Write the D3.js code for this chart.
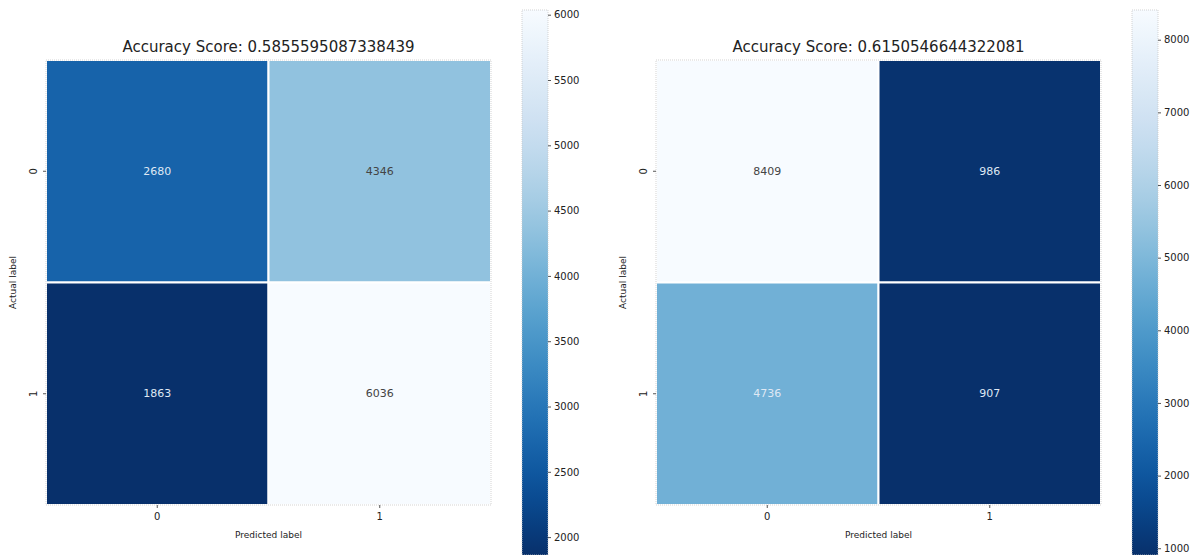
<!DOCTYPE html>
<html>
<head>
<meta charset="utf-8">
<script src="https://cdn.jsdelivr.net/npm/d3@7"></script>
<style>
  html, body { margin: 0; padding: 0; background: #fff; }
  svg { display: block; font-family: "DejaVu Sans", sans-serif; }
</style>
</head>
<body>
<svg id="chart" width="1198" height="555"></svg>
<script>
// Confusion matrices for two classifiers
const classLabels = ["0", "1"];
const matrixA = [[2680, 4346], [1863, 6036]];
const matrixB = [[8409, 986], [4736, 907]];
const titles = ["Accuracy Score: 0.5855595087338439", "Accuracy Score: 0.6150546644322081"];
const colorbarTicksA = [2000, 2500, 3000, 3500, 4000, 4500, 5000, 5500, 6000];
const colorbarTicksB = [1000, 2000, 3000, 4000, 5000, 6000, 7000, 8000];

const svg = d3.select("#chart");
const defs = svg.append("defs");

const panels = [
  { matrix: matrixA, title: titles[0], ticks: colorbarTicksA, x0: 46, cbX: 522, id: "a" },
  { matrix: matrixB, title: titles[1], ticks: colorbarTicksB, x0: 656, cbX: 1132, id: "b" }
];

const hmTop = 60, hmSize = 445;
const cbTop = 10, cbBottom = 555, cbWidth = 26;

// relative luminance of an sRGB colour
function luminance(c) {
  const rgb = d3.rgb(c);
  const lin = v => {
    v /= 255;
    return v <= 0.03928 ? v / 12.92 : Math.pow((v + 0.055) / 1.055, 2.4);
  };
  return 0.2126 * lin(rgb.r) + 0.7152 * lin(rgb.g) + 0.0722 * lin(rgb.b);
}

panels.forEach(p => {
  const vals = p.matrix.flat();
  const vmin = d3.min(vals), vmax = d3.max(vals);
  // Reversed Blues: low counts dark, high counts light
  const color = d3.scaleSequential(t => d3.interpolateBlues(1 - t)).domain([vmin, vmax]);

  const g = svg.append("g");
  const x = d3.scaleBand().domain(classLabels).range([p.x0, p.x0 + hmSize]);
  const y = d3.scaleBand().domain(classLabels).range([hmTop, hmTop + hmSize]);

  const cells = [];
  p.matrix.forEach((row, i) => row.forEach((v, j) => cells.push({ r: classLabels[i], c: classLabels[j], v })));

  g.selectAll("rect.cell").data(cells).join("rect")
    .attr("class", "cell")
    .attr("x", d => x(d.c)).attr("y", d => y(d.r))
    .attr("width", x.bandwidth()).attr("height", y.bandwidth())
    .attr("fill", d => color(d.v))
    .attr("stroke", "#fff").attr("stroke-width", 2);

  // faint frame around the matrix
  g.append("rect")
    .attr("x", p.x0).attr("y", hmTop).attr("width", hmSize).attr("height", hmSize)
    .attr("fill", "none").attr("stroke", "#c8c8c8").attr("stroke-width", 0.8)
    .attr("stroke-dasharray", "1,1");

  g.selectAll("text.val").data(cells).join("text")
    .attr("class", "val")
    .attr("x", d => x(d.c) + x.bandwidth() / 2)
    .attr("y", d => y(d.r) + y.bandwidth() / 2)
    .attr("text-anchor", "middle").attr("dominant-baseline", "central")
    .attr("font-size", 11)
    .attr("fill", d => luminance(color(d.v)) < 0.408 ? "#dfe8f4" : "#444")
    .text(d => d.v);

  // title
  g.append("text")
    .attr("x", p.x0 + hmSize / 2).attr("y", 52)
    .attr("text-anchor", "middle").attr("font-size", 15).attr("fill", "#222")
    .text(p.title);

  // x axis
  const xAxis = g.append("g").attr("transform", `translate(0,${hmTop + hmSize})`)
    .call(d3.axisBottom(x).tickSize(3).tickPadding(5));
  xAxis.select(".domain").remove();
  xAxis.selectAll("text").attr("font-size", 10).attr("fill", "#222").attr("font-family", "DejaVu Sans");
  xAxis.selectAll("line").attr("stroke", "#555");
  g.append("text")
    .attr("x", p.x0 + hmSize / 2).attr("y", 538)
    .attr("text-anchor", "middle").attr("font-size", 9).attr("fill", "#222")
    .text("Predicted label");

  // y axis with vertical tick labels
  const yAxis = g.append("g").attr("transform", `translate(${p.x0},0)`)
    .call(d3.axisLeft(y).tickSize(3).tickPadding(5));
  yAxis.select(".domain").remove();
  yAxis.selectAll("line").attr("stroke", "#555");
  yAxis.selectAll("text")
    .attr("font-size", 10).attr("fill", "#222").attr("font-family", "DejaVu Sans")
    .attr("text-anchor", "middle").attr("dy", null)
    .attr("x", -13).attr("y", 0)
    .attr("dominant-baseline", "central")
    .attr("transform", "rotate(-90,-13,0)");
  g.append("text")
    .attr("transform", `translate(${p.x0 - 30},${hmTop + hmSize / 2}) rotate(-90)`)
    .attr("text-anchor", "middle").attr("font-size", 9).attr("fill", "#222")
    .text("Actual label");

  // colorbar
  const cb = d3.scaleLinear().domain([vmin, vmax]).range([cbBottom, cbTop]);
  const grad = defs.append("linearGradient").attr("id", "grad-" + p.id)
    .attr("x1", 0).attr("y1", 1).attr("x2", 0).attr("y2", 0);
  d3.range(0, 1.0001, 0.05).forEach(t => {
    grad.append("stop").attr("offset", t).attr("stop-color", color(vmin + t * (vmax - vmin)));
  });
  g.append("rect")
    .attr("x", p.cbX).attr("y", cbTop).attr("width", cbWidth).attr("height", cbBottom - cbTop)
    .attr("fill", `url(#grad-${p.id})`)
    .attr("stroke", "#c8c8c8").attr("stroke-width", 0.8).attr("stroke-dasharray", "1,1");
  const cbAxis = g.append("g").attr("transform", `translate(${p.cbX + cbWidth},0)`)
    .call(d3.axisRight(cb).tickValues(p.ticks).tickSize(3).tickPadding(3).tickFormat(d3.format("d")));
  cbAxis.select(".domain").remove();
  cbAxis.selectAll("line").attr("stroke", "#555");
  cbAxis.selectAll("text").attr("font-size", 10).attr("fill", "#222").attr("font-family", "DejaVu Sans");
});
</script>
</body>
</html>
